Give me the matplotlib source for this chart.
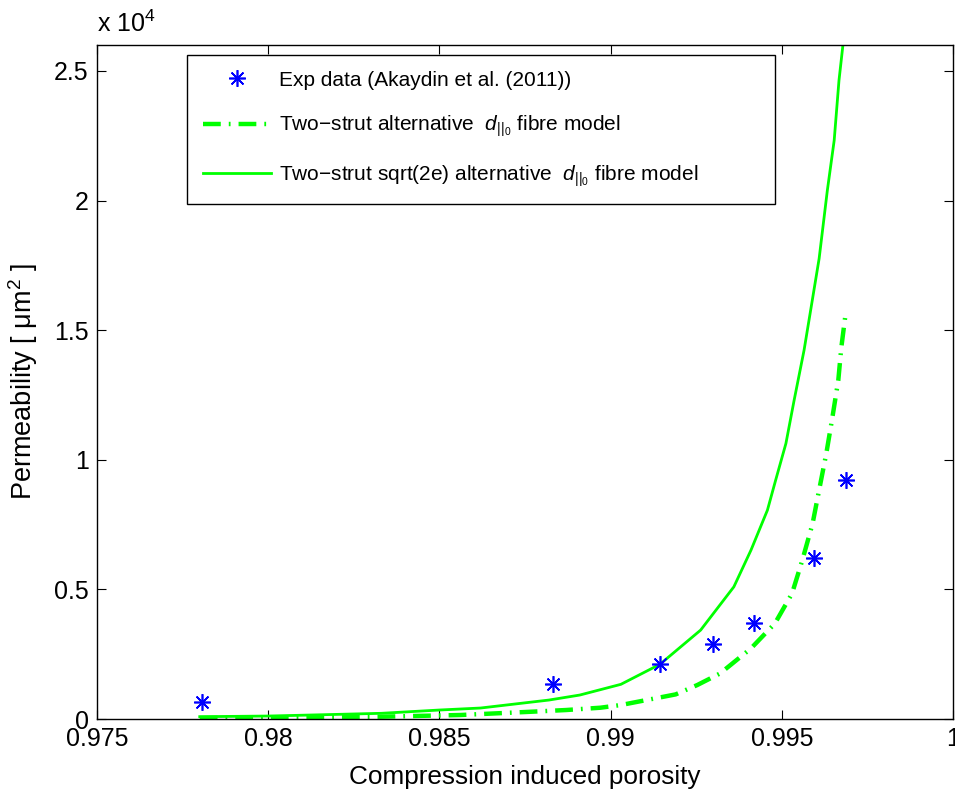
import matplotlib
matplotlib.use("Agg")
import matplotlib.pyplot as plt
from matplotlib.ticker import FuncFormatter

plt.rcParams['font.family'] = ['Liberation Sans', 'DejaVu Sans']
plt.rcParams['mathtext.fontset'] = 'custom'
plt.rcParams['mathtext.rm'] = 'Liberation Sans'
plt.rcParams['mathtext.it'] = 'Liberation Sans:italic'
plt.rcParams['mathtext.bf'] = 'Liberation Sans:bold'

# Experimental permeability measurements
exp_porosity = [0.97807, 0.98833, 0.99144, 0.99300, 0.99420, 0.99594, 0.99687]
exp_perm = [644, 1349, 2109, 2880, 3712, 6218, 9213]

# Two-strut alternative d_||0 fibre model
alt_porosity = [0.9780, 0.9800, 0.9833, 0.9856, 0.9877, 0.9887, 0.9897, 0.9903,
                0.9909, 0.9919, 0.99253, 0.9932, 0.9941, 0.9948, 0.9953, 0.9956,
                0.9959, 0.9961, 0.9963, 0.99648, 0.99665, 0.99674, 0.99687]
alt_perm = [40, 60, 90, 154, 282, 347, 436, 540, 694, 950, 1310, 1760, 2725,
            3689, 4846, 6130, 7544, 8900, 10243, 11654, 13068, 14352, 15700]

# Two-strut sqrt(2e) alternative d_||0 fibre model
sq_porosity = [0.9780, 0.9800, 0.9833, 0.9850, 0.9862, 0.9872, 0.9882, 0.9891,
               0.9903, 0.99144, 0.99263, 0.9936, 0.9941, 0.99458, 0.99482,
               0.99512, 0.99536, 0.99565, 0.99589, 0.99609, 0.99633, 0.99653,
               0.99667, 0.99687]
sq_perm = [90, 115, 220, 347, 424, 578, 732, 925, 1338, 2110, 3431, 5100, 6515,
           8057, 9213, 10628, 12297, 14225, 16150, 17760, 20390, 22320, 24633,
           27000]

x_ticks = [0.975, 0.98, 0.985, 0.99, 0.995, 1.0]
y_ticks = [0, 5000, 10000, 15000, 20000, 25000]

labels = ['Exp data (Akaydin et al. (2011))',
          'Two\u2212strut alternative  $d_{||_{0}}$ fibre model',
          'Two\u2212strut sqrt(2e) alternative  $d_{||_{0}}$ fibre model']

FS = 18
LEG_FS = 15

fig = plt.figure(figsize=(9.55, 7.91), dpi=100)
ax = fig.add_axes([0.1016, 0.0910, 0.8963, 0.8521])

asterisk = (8, 2, 0)
ax.plot(exp_porosity, exp_perm, linestyle='none', marker=asterisk,
        markersize=12, markeredgewidth=1.2, color=(0, 0, 1), label=labels[0],
        zorder=3)
ax.plot(alt_porosity, alt_perm, color=(0, 1, 0), linewidth=3.2,
        linestyle=(0, (4, 1.8, 0.4, 1.8)), label=labels[1], zorder=2)
ax.plot(sq_porosity, sq_perm, color=(0, 1, 0), linewidth=2.0,
        linestyle='-', label=labels[2], zorder=2)

ax.set_xlim(0.975, 1.0)
ax.set_ylim(0, 26000)
ax.set_xticks(x_ticks)
ax.set_yticks(y_ticks)
ax.xaxis.set_major_formatter(FuncFormatter(lambda v, p: f'{v:g}'))
ax.yaxis.set_major_formatter(FuncFormatter(lambda v, p: f'{v / 1e4:g}'))
ax.tick_params(direction='in', length=6.5, width=0.8, top=True, right=True,
               labelsize=FS, pad=6)
for s in ax.spines.values():
    s.set_linewidth(1.0)

ax.text(0.0, 1.012, 'x 10$^4$', transform=ax.transAxes, ha='left',
        va='bottom', fontsize=FS)

ax.set_xlabel('Compression induced porosity', fontsize=18.8, labelpad=10)
ax.set_ylabel('Permeability [ \u03bcm$^2$ ]', fontsize=19.5, labelpad=10)

leg = ax.legend(loc='upper left', bbox_to_anchor=(0.105, 0.758, 0.687, 0.227),
                mode='expand', fontsize=LEG_FS, frameon=True, fancybox=False,
                framealpha=1, edgecolor='k', handlelength=3.3,
                handletextpad=0.38, borderpad=0.75, labelspacing=1.15,
                borderaxespad=0)
leg.get_frame().set_linewidth(1.0)

fig.savefig('out.png', dpi=100)
